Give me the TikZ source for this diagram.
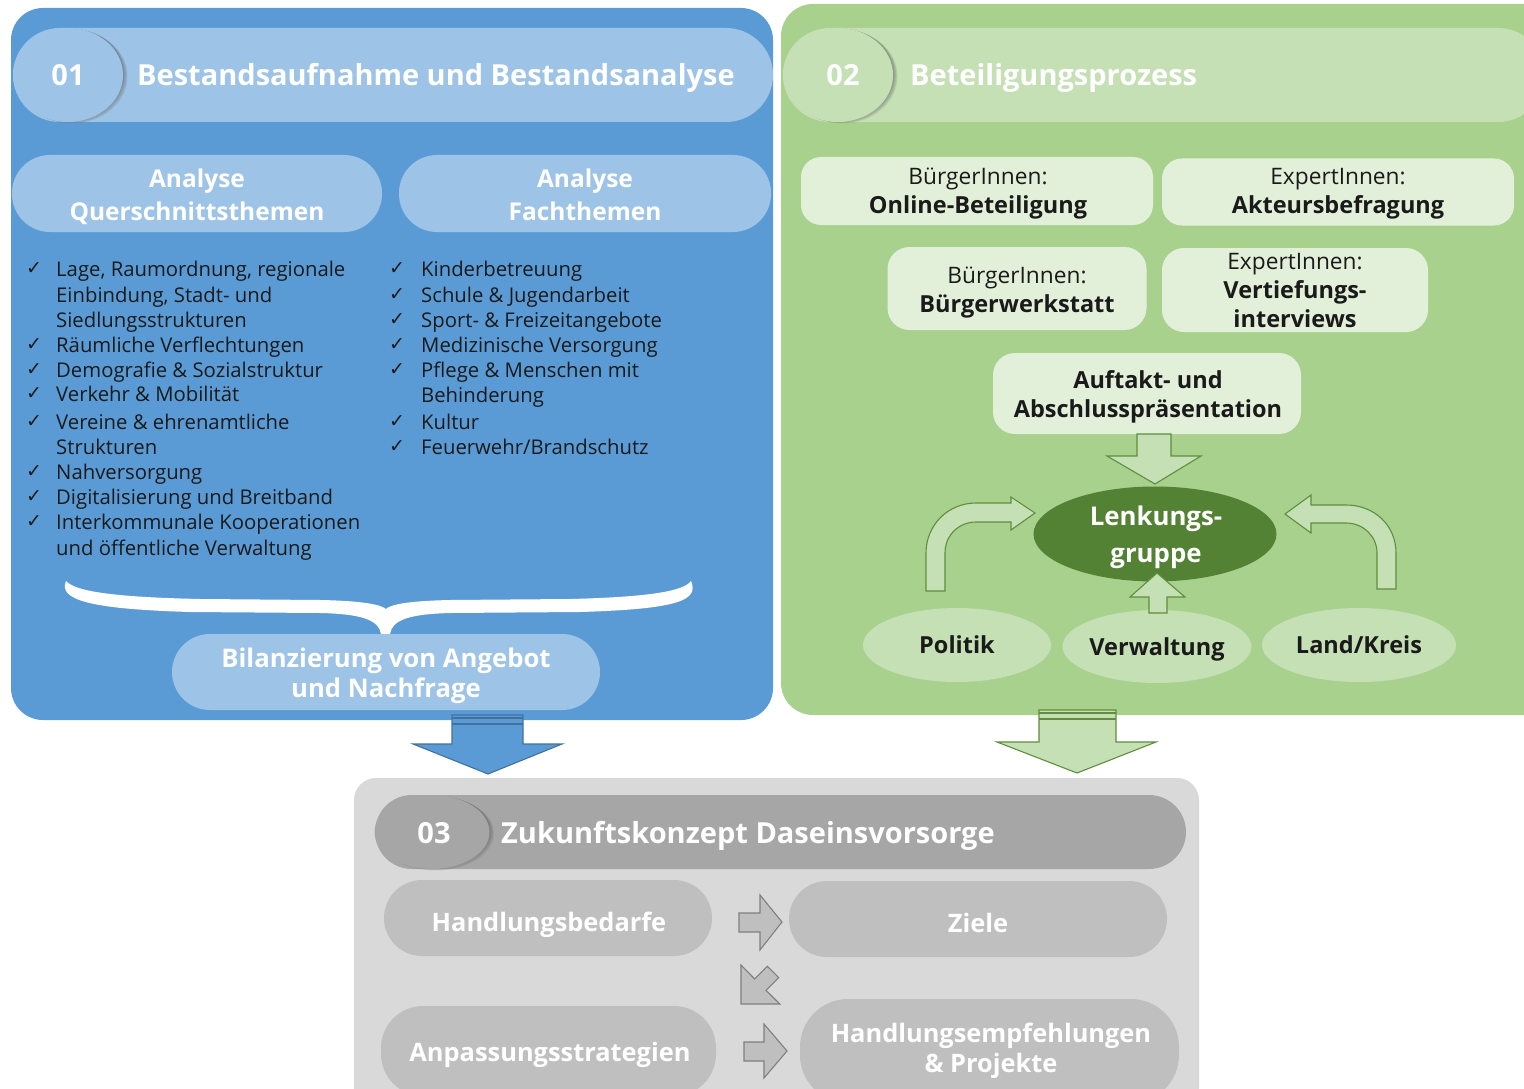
\documentclass[tikz,border=0pt]{standalone}
\usepackage{fontspec}
\setmainfont{Open Sans}
\newfontfamily\symfont{DejaVu Sans}
\usetikzlibrary{shapes.geometric}

\definecolor{bluepanel}{HTML}{5B9BD5}
\definecolor{bluepill}{HTML}{9DC3E6}
\definecolor{blueline}{HTML}{41719C}
\definecolor{greenpanel}{HTML}{A9D18E}
\definecolor{greenpill}{HTML}{C5E0B4}
\definecolor{greenbox}{HTML}{E2F0D9}
\definecolor{greendark}{HTML}{548235}
\definecolor{greenline}{HTML}{5E8E3E}
\definecolor{graypanel}{HTML}{D9D9D9}
\definecolor{graytitle}{HTML}{A6A6A6}
\definecolor{graypill}{HTML}{BFBFBF}
\definecolor{grayline}{HTML}{7F7F7F}
\definecolor{ink}{HTML}{1A1A1A}
\definecolor{shade}{HTML}{2F4F6F}

\newcommand\fsz[2]{\fontsize{#1}{#2}\selectfont}
% soft shadow on the right of a number badge: (centre x, centre y, width, height)
\newcommand\badgeshadow[4]{%
  \foreach \k in {1,...,5}
    \fill[shade, fill opacity=0.07] (#1+\k*0.9,#2+\k*0.3) ellipse[x radius=#3/2, y radius=#4/2];}

\begin{document}
\begin{tikzpicture}[x=1pt,y=-1pt,
  panel/.style={rectangle, draw=none, inner sep=0pt},
  pill/.style={rectangle, draw=none, inner sep=0pt},
  oval/.style={ellipse, draw=none, inner sep=0pt},
  badge/.style={ellipse, draw=none, inner sep=0pt},
  headtext/.style={inner sep=0pt, text=white, font=\bfseries\fsz{29}{33}},
  subtext/.style={inner sep=0pt, text=white, font=\bfseries\fsz{24.5}{28}, anchor=base},
  listtext/.style={inner sep=0pt, text=ink, font=\fsz{20.3}{24}, anchor=base west},
  tickmark/.style={inner sep=0pt, text=ink, font=\symfont\fsz{19}{21}, anchor=base west},
  boxlight/.style={inner sep=0pt, text=ink, font=\fsz{22.7}{26}, anchor=base},
  boxbold/.style={inner sep=0pt, text=ink, font=\bfseries\fsz{23.5}{27}, anchor=base},
  graytext/.style={inner sep=0pt, text=white, font=\bfseries\fsz{25.4}{29}, anchor=base},
  blockarrow/.style={line width=1.1pt, line join=miter},
]
\useasboundingbox (0,0) rectangle (1524,1089);

% ---------- panel 01 ----------
\node[panel, fill=bluepanel, rounded corners=32pt, minimum width=762pt, minimum height=712pt] (p1) at (392,364) {};
\node[pill, fill=bluepill, rounded corners=47pt, minimum width=760pt, minimum height=94pt] (t1) at (393,75) {};
\badgeshadow{68}{75}{110}{94}
\node[badge, fill=bluepill, minimum width=110pt, minimum height=94pt] (c1) at (68,75) {};
\node[headtext, anchor=base] (n1) at (68,86) {01};
\node[headtext, anchor=base west] (h1) at (137,86) {Bestandsaufnahme und Bestandsanalyse};

\node[pill, fill=bluepill, rounded corners=38pt, minimum width=370pt, minimum height=77pt] (q) at (197,193.5) {};
\node[pill, fill=bluepill, rounded corners=38pt, minimum width=372pt, minimum height=77pt] (f) at (585,193.5) {};
\node[subtext] (q1) at (197,188) {Analyse};
\node[subtext] (q2) at (197,220) {Querschnittsthemen};
\node[subtext] (f1) at (585,188) {Analyse};
\node[subtext] (f2) at (585,220) {Fachthemen};

% left list
\node[tickmark] (lt1) at (26,274) {✓};
\node[listtext] (l1) at (56,276) {Lage, Raumordnung, regionale};
\node[listtext] (l1b) at (56,302) {Einbindung, Stadt- und};
\node[listtext] (l1c) at (56,327) {Siedlungsstrukturen};
\node[tickmark] (lt2) at (26,350) {✓};
\node[listtext] (l2) at (56,352) {Räumliche Verflechtungen};
\node[tickmark] (lt3) at (26,375) {✓};
\node[listtext] (l3) at (56,377) {Demografie \& Sozialstruktur};
\node[tickmark] (lt4) at (26,399) {✓};
\node[listtext] (l4) at (56,401) {Verkehr \& Mobilität};
\node[tickmark] (lt5) at (26,427) {✓};
\node[listtext] (l5) at (56,429) {Vereine \& ehrenamtliche};
\node[listtext] (l5b) at (56,454) {Strukturen};
\node[tickmark] (lt6) at (26,477) {✓};
\node[listtext] (l6) at (56,479) {Nahversorgung};
\node[tickmark] (lt7) at (26,502) {✓};
\node[listtext] (l7) at (56,504) {Digitalisierung und Breitband};
\node[tickmark] (lt8) at (26,527) {✓};
\node[listtext] (l8) at (56,529) {Interkommunale Kooperationen};
\node[listtext] (l8b) at (56,555) {und öffentliche Verwaltung};

% right list
\node[tickmark] (rt1) at (389,274) {✓};
\node[listtext] (r1) at (421,276) {Kinderbetreuung};
\node[tickmark] (rt2) at (389,300) {✓};
\node[listtext] (r2) at (421,302) {Schule \& Jugendarbeit};
\node[tickmark] (rt3) at (389,325) {✓};
\node[listtext] (r3) at (421,327) {Sport- \& Freizeitangebote};
\node[tickmark] (rt4) at (389,350) {✓};
\node[listtext] (r4) at (421,352) {Medizinische Versorgung};
\node[tickmark] (rt5) at (389,375) {✓};
\node[listtext] (r5) at (421,377) {Pflege \& Menschen mit};
\node[listtext] (r5b) at (421,402) {Behinderung};
\node[tickmark] (rt6) at (389,427) {✓};
\node[listtext] (r6) at (421,429) {Kultur};
\node[tickmark] (rt7) at (389,452) {✓};
\node[listtext] (r7) at (421,454) {Feuerwehr/Brandschutz};

% curly brace gathering both columns
\fill[white] (66,581) .. controls (58,600) and (90,609) .. (190,612) -- (320,613)
  .. controls (362,614) and (379,620) .. (381,634) -- (390,634)
  .. controls (392,620) and (409,614) .. (451,613) -- (580,612)
  .. controls (680,609) and (699,600) .. (691,581)
  .. controls (684,591) and (650,597) .. (570,599) -- (450,600)
  .. controls (405,601) and (390,605) .. (386,609)
  .. controls (381,605) and (366,601) .. (321,600) -- (200,599)
  .. controls (110,597) and (75,591) .. (66,581) -- cycle;

\node[pill, fill=bluepill, rounded corners=38pt, minimum width=428pt, minimum height=76pt] (bil) at (386,672) {};
\node[subtext, font=\bfseries\fsz{25.7}{29}] (bil1) at (386,667) {Bilanzierung von Angebot};
\node[subtext, font=\bfseries\fsz{25.7}{29}] (bil2) at (386,697) {und Nachfrage};

% ---------- panel 02 ----------
\node[panel, fill=greenpanel, rounded corners=32pt, minimum width=779pt, minimum height=711pt] (p2) at (1170.5,359.5) {};
\node[pill, fill=greenpill, rounded corners=47pt, minimum width=762pt, minimum height=94pt] (t2) at (1164,75) {};
\badgeshadow{838}{75}{110}{94}
\node[badge, fill=greenpill, minimum width=110pt, minimum height=94pt] (c2) at (838,75) {};
\node[headtext, anchor=base] (n2) at (843,86) {02};
\node[headtext, anchor=base west] (h2) at (910,86) {Beteiligungsprozess};

\node[pill, fill=greenbox, rounded corners=20pt, minimum width=352pt, minimum height=68pt] (ob) at (977,191) {};
\node[boxlight] (ob1) at (978,185) {BürgerInnen:};
\node[boxbold] (ob2) at (978,213) {Online-Beteiligung};

\node[pill, fill=greenbox, rounded corners=20pt, minimum width=352pt, minimum height=67pt] (ak) at (1338,192) {};
\node[boxlight] (ak1) at (1338,185) {ExpertInnen:};
\node[boxbold] (ak2) at (1338,213) {Akteursbefragung};

\node[pill, fill=greenbox, rounded corners=22pt, minimum width=259pt, minimum height=83pt] (bw) at (1017,288.5) {};
\node[boxlight] (bw1) at (1017,283) {BürgerInnen:};
\node[boxbold] (bw2) at (1017,312) {Bürgerwerkstatt};

\node[pill, fill=greenbox, rounded corners=22pt, minimum width=266pt, minimum height=84pt] (vi) at (1295,290) {};
\node[boxlight] (vi1) at (1295,269) {ExpertInnen:};
\node[boxbold] (vi2) at (1295,298) {Vertiefungs-};
\node[boxbold] (vi3) at (1295,327) {interviews};

\node[pill, fill=greenbox, rounded corners=22pt, minimum width=308pt, minimum height=81pt] (au) at (1147,393.5) {};
\node[boxbold] (au1) at (1148,388) {Auftakt- und};
\node[boxbold] (au2) at (1148,417) {Abschlusspräsentation};

\node[oval, fill=greendark, minimum width=243pt, minimum height=95pt] (lg) at (1155,534) {};
\node[subtext, font=\bfseries\fsz{25.8}{29}] (lg1) at (1156,525) {Lenkungs-};
\node[subtext, font=\bfseries\fsz{25.8}{29}] (lg2) at (1156,562) {gruppe};

\node[oval, fill=greenpill, minimum width=188pt, minimum height=74pt] (po) at (957,645) {};
\node[boxbold] (po1) at (957,653) {Politik};
\node[oval, fill=greenpill, minimum width=189pt, minimum height=73pt] (vw) at (1157,646.5) {};
\node[boxbold] (vw1) at (1157,655) {Verwaltung};
\node[oval, fill=greenpill, minimum width=194pt, minimum height=74pt] (lk) at (1359,645) {};
\node[boxbold] (lk1) at (1359,653) {Land/Kreis};

% block arrows around the steering group
\draw[blockarrow, fill=greenpill, draw=greenline]
  (1137,434) -- (1171,434) -- (1171,456) -- (1201,456) -- (1155,484) -- (1107,456) -- (1137,456) -- cycle;
\draw[blockarrow, fill=greenpill, draw=greenline]
  (1149,613) -- (1167,613) -- (1167,597) -- (1185,597) -- (1157,573) -- (1130,597) -- (1149,597) -- cycle;
\draw[blockarrow, fill=greenpill, draw=greenline]
  (926,591) -- (926,553) .. controls (926,525) and (948,503) .. (976,503) -- (1011,503) -- (1011,497)
  -- (1035,513) -- (1011,530) -- (1011,522) -- (976,522) .. controls (959,522) and (945,535) .. (945,553)
  -- (945,591) -- cycle;
\draw[blockarrow, fill=greenpill, draw=greenline]
  (1396,589) -- (1396,553) .. controls (1396,525) and (1374,505) .. (1346,505) -- (1311,505) -- (1311,495)
  -- (1285,514) -- (1311,533) -- (1311,523) -- (1346,523) .. controls (1363,523) and (1377,536) .. (1377,553)
  -- (1377,589) -- cycle;

% ---------- panel 03 ----------
\node[panel, fill=graypanel, rounded corners=22pt, minimum width=845pt, minimum height=332pt] (p3) at (776.5,944) {};
\node[pill, fill=graytitle, rounded corners=37pt, minimum width=811pt, minimum height=74pt] (t3) at (780.5,832) {};
\badgeshadow{432}{832}{115}{74}
\node[badge, fill=graytitle, minimum width=115pt, minimum height=74pt] (c3) at (432,832) {};
\node[headtext, anchor=base] (n3) at (434,843) {03};
\node[headtext, anchor=base west] (h3) at (501,843) {Zukunftskonzept Daseinsvorsorge};

\node[pill, fill=graypill, rounded corners=38pt, minimum width=328pt, minimum height=76pt] (hb) at (548,918) {};
\node[graytext] (hb1) at (549,931) {Handlungsbedarfe};
\node[pill, fill=graypill, rounded corners=38pt, minimum width=378pt, minimum height=76pt] (zi) at (978,919) {};
\node[graytext] (zi1) at (978,932) {Ziele};
\node[pill, fill=graypill, rounded corners=42pt, minimum width=335pt, minimum height=90pt] (an) at (548.5,1051) {};
\node[graytext] (an1) at (550,1061) {Anpassungsstrategien};
\node[pill, fill=graypill, rounded corners=48pt, minimum width=379pt, minimum height=104pt] (he) at (989.5,1051) {};
\node[graytext] (he1) at (991,1042) {Handlungsempfehlungen};
\node[graytext] (he2) at (991,1072) {\& Projekte};

% process arrows
\draw[blockarrow, fill=graypill, draw=grayline]
  (739,913) -- (760,913) -- (760,895) -- (782,922) -- (760,950) -- (760,932) -- (739,932) -- cycle;
\draw[blockarrow, fill=graypill, draw=grayline]
  (741,1004) -- (741,965) -- (754.7,979) -- (767.3,966.3) -- (778.8,977.6) -- (766,990.3) -- (779.8,1004) -- cycle;
\draw[blockarrow, fill=graypill, draw=grayline]
  (744,1042) -- (764,1042) -- (764,1024) -- (787,1051) -- (764,1078) -- (764,1061) -- (744,1061) -- cycle;

% ---------- arrows into panel 03 ----------
\draw[blockarrow, fill=bluepanel, draw=blueline]
  (452,715) -- (523,715) -- (523,744) -- (562,744) -- (488,774) -- (413,744) -- (452,744) -- cycle;
\draw[blueline, line width=1.2pt] (452,718) -- (523,718) (452,724) -- (523,724);
\draw[blockarrow, fill=greenpill, draw=greenline]
  (1039,710) -- (1116,710) -- (1116,742) -- (1156,742) -- (1077,773) -- (997,742) -- (1039,742) -- cycle;
\draw[greenline, line width=1.2pt] (1039,713) -- (1116,713) (1039,719) -- (1116,719);
\end{tikzpicture}
\end{document}
